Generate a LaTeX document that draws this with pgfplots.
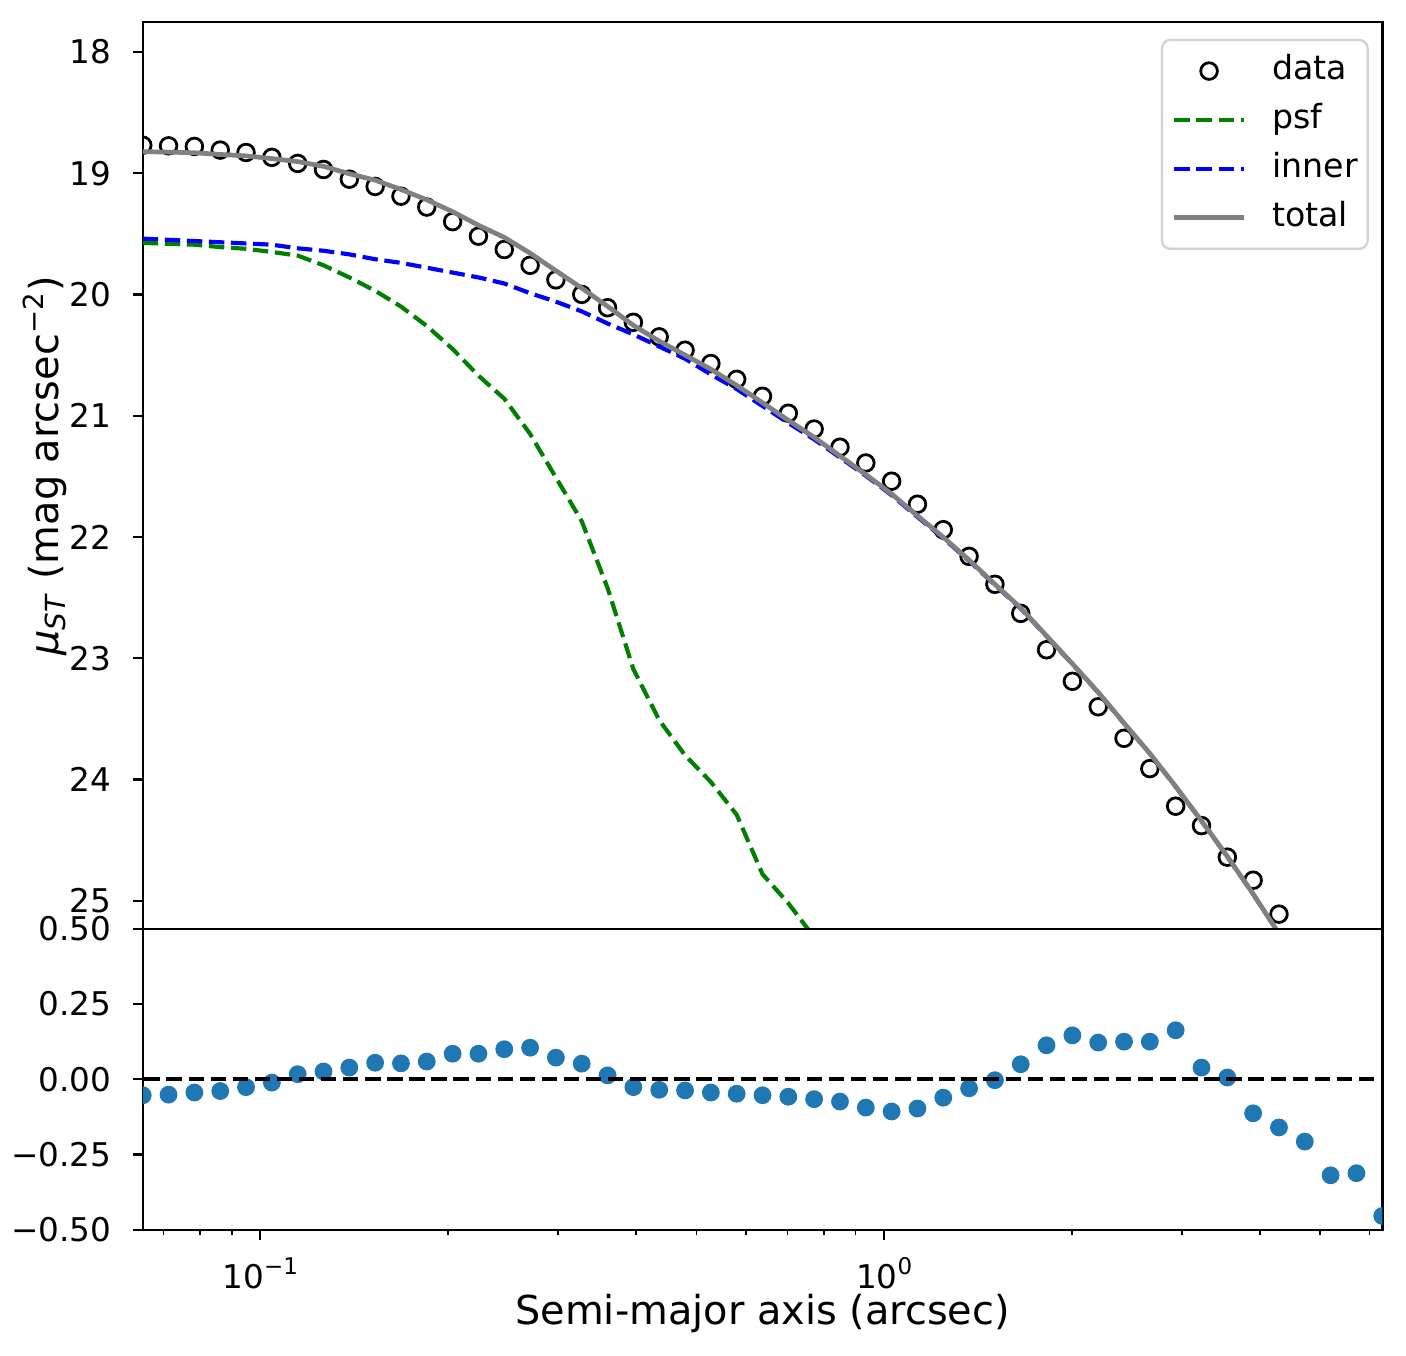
\documentclass[border=0pt]{standalone}
\usepackage{fontspec}
\setmainfont{DejaVu Sans}
\usepackage{pgfplots}
\usepackage{pgfplotstable}
\pgfplotsset{compat=1.18}
\definecolor{mplblue}{HTML}{1F77B4}
\definecolor{mplgreen}{rgb}{0,0.5,0}
\definecolor{mplgray}{HTML}{808080}
\pgfplotsset{
  linelegend/.style={legend image code/.code={\draw[##1] (0bp,0bp) -- (25bp,0bp);}},
  marklegend/.style={legend image code/.code={\draw[mark repeat=2,mark phase=2,##1] plot coordinates {(0bp,0bp) (12.5bp,0bp) (25bp,0bp)};}},
}

% x, data, inner, total
\pgfplotstableread{
x data inner total
0.06480 18.770 19.540 18.823
0.07128 18.775 19.550 18.827
0.07841 18.780 19.560 18.832
0.08625 18.810 19.570 18.846
0.09487 18.830 19.580 18.858
0.10436 18.870 19.590 18.880
0.11480 18.920 19.620 18.905
0.12628 18.970 19.640 18.944
0.13890 19.050 19.670 19.005
0.15280 19.110 19.710 19.058
0.16807 19.190 19.740 19.135
0.18488 19.280 19.780 19.220
0.20337 19.400 19.820 19.318
0.22371 19.520 19.860 19.430
0.24608 19.630 19.910 19.530
0.27069 19.760 19.990 19.660
0.29775 19.880 20.060 19.805
0.32753 20.000 20.140 19.948
0.36028 20.110 20.240 20.098
0.39631 20.230 20.330 20.255
0.43594 20.350 20.430 20.385
0.47954 20.460 20.530 20.500
0.52749 20.570 20.660 20.617
0.58024 20.700 20.780 20.750
0.63826 20.840 20.920 20.893
0.70209 20.980 21.060 21.038
0.77230 21.110 21.195 21.178
0.84953 21.260 21.345 21.332
0.93448 21.390 21.495 21.485
1.02793 21.540 21.655 21.645
1.13072 21.730 21.835 21.825
1.24379 21.940 22.010 22.002
1.36817 22.160 22.197 22.190
1.50499 22.390 22.396 22.390
1.65549 22.630 22.590 22.585
1.82104 22.930 22.819 22.815
2.00314 23.190 23.048 23.045
2.20346 23.400 23.283 23.280
2.42380 23.660 23.537 23.535
2.66618 23.910 23.787 23.785
2.93280 24.220 24.059 24.057
3.22608 24.380 24.342 24.340
3.54869 24.640 24.636 24.634
3.90356 24.830 24.945 24.943
4.29391 25.110 25.272 25.270
}\topTbl

\pgfplotstableread{
x psf
0.06480 19.575
0.07128 19.583
0.07841 19.590
0.08625 19.610
0.09487 19.624
0.10436 19.650
0.11480 19.680
0.12628 19.760
0.13890 19.860
0.15280 19.970
0.16807 20.100
0.18488 20.260
0.20337 20.450
0.22371 20.670
0.24608 20.860
0.27069 21.150
0.29775 21.510
0.32753 21.870
0.36028 22.420
0.39631 23.090
0.43594 23.510
0.47954 23.800
0.52749 24.020
0.58024 24.290
0.63826 24.780
0.70209 25.020
0.77230 25.300
}\psfTbl

\pgfplotstableread{
x res
0.06480 -0.053
0.07128 -0.051
0.07841 -0.044
0.08625 -0.039
0.09487 -0.026
0.10436 -0.011
0.11480 0.017
0.12628 0.026
0.13890 0.039
0.15280 0.055
0.16807 0.053
0.18488 0.059
0.20337 0.085
0.22371 0.085
0.24608 0.100
0.27069 0.105
0.29775 0.072
0.32753 0.052
0.36028 0.013
0.39631 -0.026
0.43594 -0.035
0.47954 -0.037
0.52749 -0.044
0.58024 -0.048
0.63826 -0.053
0.70209 -0.058
0.77230 -0.066
0.84953 -0.074
0.93448 -0.094
1.02793 -0.107
1.13072 -0.097
1.24379 -0.061
1.36817 -0.030
1.50499 -0.003
1.65549 0.050
1.82104 0.113
2.00314 0.146
2.20346 0.122
2.42380 0.125
2.66618 0.125
2.93280 0.163
3.22608 0.039
3.54869 0.006
3.90356 -0.113
4.29391 -0.160
4.72330 -0.207
5.19563 -0.319
5.71520 -0.312
6.28672 -0.454
}\resTbl

\begin{document}
\begin{tikzpicture}
\begin{axis}[name=top, at={(0,0)}, anchor=south west,
  scale only axis, width=446.3bp, height=326.52bp,
  xmode=log, xmin=0.0648, xmax=6.29,
  axis line style={line width=0.8bp},
  tick align=outside, xtick pos=bottom, ytick pos=left,
  major tick length=3.6bp, minor tick length=2bp,
  major tick style={line width=0.8bp, black},
  minor tick style={line width=0.6bp, black},
  tick label style={font=\fontsize{11.8}{14}\selectfont},
  yticklabel style={anchor=east, inner sep=0pt, xshift=-7.6bp},
  clip marker paths=true,
  label style={font=\fontsize{14.4}{17}\selectfont},
  y dir=reverse, ymin=17.753, ymax=25.231,
  xtick=\empty, xminorticks=false,
  ytick={18,19,20,21,22,23,24,25},
  yticklabels={18,19,20,21,22,23,24,25},
  ylabel={\textit{μ}\textsubscript{\textit{ST}} (mag arcsec\textsuperscript{−2})},
  ylabel style={at={(axis description cs:-0.0788,0.5105)}, anchor=center},
  legend style={at={(0.989,0.9813)}, anchor=north east,
    draw=black!18, line width=0.8bp, rounded corners=3bp, fill=white,
    inner xsep=3.6bp, inner ysep=5.2bp, row sep=5.6bp, column sep=9.4bp,
    font=\fontsize{12}{14.4}\selectfont,
    nodes={text height=9.1bp, text depth=2.9bp, inner sep=0pt},
    cells={anchor=west}},
  linelegend,
]
\addplot[only marks, mark=o, mark size=3.0bp, line width=1bp, black, marklegend]
  table[x=x, y=data] {\topTbl};
\addlegendentry{data}
\addplot[mplgreen, line width=1.5bp, dash pattern=on 5.55bp off 2.4bp] table[x=x, y=psf] {\psfTbl};
\addlegendentry{psf}
\addplot[blue, line width=1.5bp, dash pattern=on 5.55bp off 2.4bp] table[x=x, y=inner] {\topTbl};
\addlegendentry{inner}
\addplot[mplgray, line width=1.7bp] table[x=x, y=total] {\topTbl};
\addlegendentry{total}
\end{axis}
\begin{axis}[name=bot, at={(0,0)}, anchor=north west,
  scale only axis, width=446.3bp, height=108.36bp,
  xmode=log, xmin=0.0648, xmax=6.29,
  axis line style={line width=0.8bp},
  tick align=outside, xtick pos=bottom, ytick pos=left,
  major tick length=3.6bp, minor tick length=2bp,
  major tick style={line width=0.8bp, black},
  minor tick style={line width=0.6bp, black},
  tick label style={font=\fontsize{11.8}{14}\selectfont},
  yticklabel style={anchor=east, inner sep=0pt, xshift=-7.6bp},
  clip marker paths=true,
  label style={font=\fontsize{14.4}{17}\selectfont},
  ymin=-0.5, ymax=0.5,
  ytick={-0.5,-0.25,0,0.25,0.5},
  yticklabels={−0.50,−0.25,0.00,0.25,0.50},
  xtick={0.1,1},
  xticklabels={10\raisebox{4.8bp}{\fontsize{8.3}{9.5}\selectfont −1},10\raisebox{4.8bp}{\fontsize{8.3}{9.5}\selectfont 0}},
  minor xtick={0.07,0.08,0.09,0.2,0.3,0.4,0.5,0.6,0.7,0.8,0.9,2,3,4,5,6},
  xticklabel style={anchor=base, inner sep=0pt, yshift=-17.4bp},
  xlabel={Semi-major axis (arcsec)},
  xlabel style={at={(axis description cs:0.5,0)}, anchor=base, inner sep=0pt, yshift=-34.2bp},
]
\addplot[only marks, mark=*, mark size=3.0bp, mplblue] table[x=x, y=res] {\resTbl};
\addplot[black, line width=1.5bp, dash pattern=on 5.55bp off 2.4bp] coordinates {(0.01,0) (10,0)};
\end{axis}
\path (-51.4bp,334.4bp) rectangle (454.8bp,-153.72bp);
\end{tikzpicture}
\end{document}
